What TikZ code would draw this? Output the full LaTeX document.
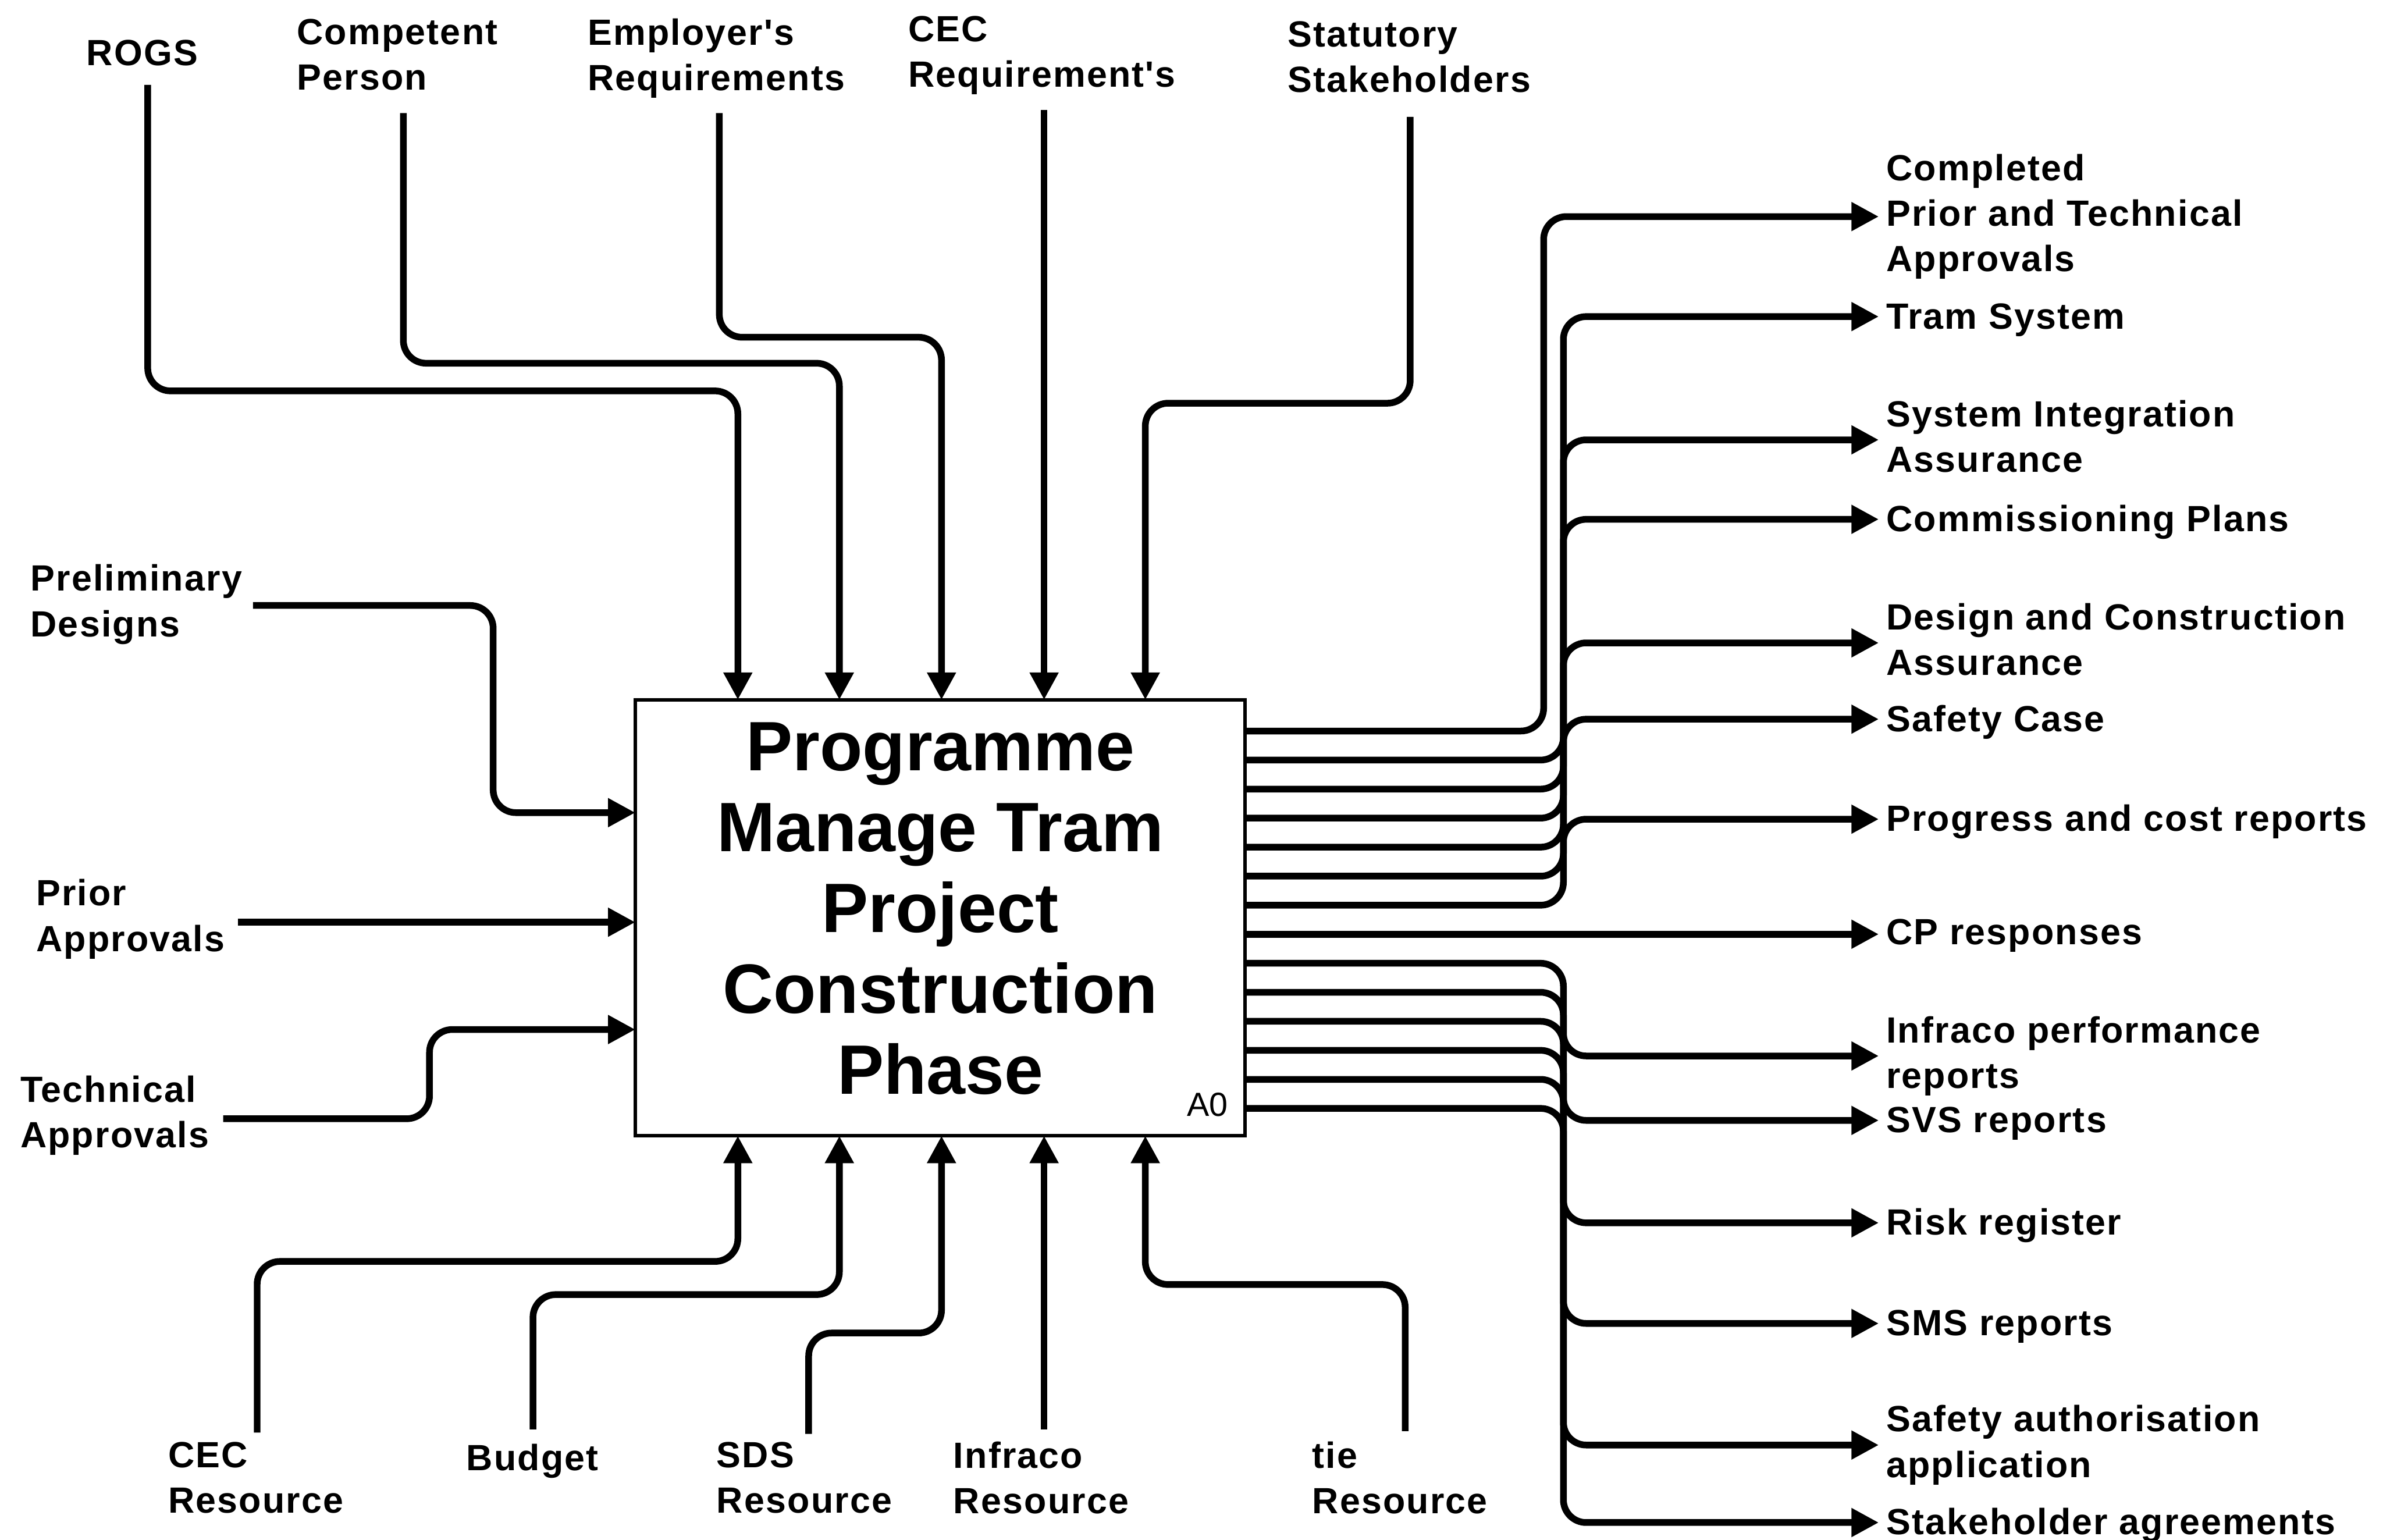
\documentclass[tikz,border=0pt]{standalone}
\usepackage{fontspec}
\setmainfont{Liberation Sans}[LetterSpace=3.5, Ligatures=TeXOff]
\newfontfamily\titlefont{Liberation Sans}
\usetikzlibrary{arrows.meta}

\begin{document}
\begin{tikzpicture}[x=0.5pt, y=-0.5pt,
  lbl/.style={font=\fontsize{12}{15}\selectfont\bfseries, align=left,
    inner sep=0pt, outer sep=0pt, anchor=west, yshift=-1pt,
    execute at begin node=\strut, execute at end node=\strut},
  procbox/.style={draw, line width=1.1pt, inner sep=0pt, outer sep=0pt,
    minimum width=200.65pt, minimum height=143.45pt, align=center,
    font=\titlefont\fontsize{23}{26.6}\selectfont\bfseries,
    execute at begin node={\rule{0pt}{20.4pt}},
    execute at end node={\rule[-6.2pt]{0pt}{6.2pt}}},
  conn/.style={line width=2.2pt, rounded corners=7.5pt,
    -{Triangle[length=9pt,width=9pt]}},
  outflow/.style={conn, shorten >=2.5pt}
]
\useasboundingbox (0,0) rectangle (1568,1013);

% activity box
\node[procbox] (a0) at (618.7,603.9)
  {Programme\\Manage Tram\\Project\\Construction\\Phase};
\node[font=\titlefont\fontsize{11}{13}\selectfont, anchor=base east,
  inner sep=0pt] (a0tag) at (808.4,734.6) {A0};

% controls (top)
\node[lbl] (rogs)   at (56.9,35.1)  {ROGS};
\node[lbl] (comp)   at (195.4,38.4) {Competent\\Person};
\node[lbl] (empl)   at (386.7,38.4) {Employer's\\Requirements};
\node[lbl] (cecreq) at (597.7,36.4) {CEC\\Requirement's};
\node[lbl] (stat)   at (847.2,39.8) {Statutory\\Stakeholders};

% inputs (left)
\node[lbl] (prelim) at (20.1,397.6) {Preliminary\\Designs};
\node[lbl] (prior)  at (23.8,604.7) {Prior\\Approvals};
\node[lbl] (tech)   at (13.4,733.9) {Technical\\Approvals};

% mechanisms (bottom)
\node[lbl] (cecres) at (110.7,974.7) {CEC\\Resource};
\node[lbl] (budget) at (306.9,959.7) {Budget};
\node[lbl] (sdsres) at (471.6,974.7) {SDS\\Resource};
\node[lbl] (infres) at (627.4,974.7) {Infraco\\Resource};
\node[lbl] (tieres) at (863.5,974.7) {tie\\Resource};

% outputs (right)
\node[lbl] (o1)  at (1241.2,142.5)  {Completed\\Prior and Technical\\Approvals};
\node[lbl] (o2)  at (1241.2,208.3)  {Tram System};
\node[lbl] (o3)  at (1241.2,289.4)  {System Integration\\Assurance};
\node[lbl] (o4)  at (1241.2,341.7)  {Commissioning Plans};
\node[lbl] (o5)  at (1241.2,423.0)  {Design and Construction\\Assurance};
\node[lbl] (o6)  at (1241.2,473.2)  {Safety Case};
\node[lbl] (o7)  at (1241.2,539.0)  {Progress and cost reports};
\node[lbl] (o8)  at (1241.2,613.3)  {CP responses};
\node[lbl] (o9)  at (1241.2,694.8)  {Infraco performance\\reports};
\node[lbl] (o10) at (1241.2,737.2)  {SVS reports};
\node[lbl] (o11) at (1241.2,804.6)  {Risk register};
\node[lbl] (o12) at (1241.2,870.8)  {SMS reports};
\node[lbl] (o13) at (1241.2,950.8)  {Safety authorisation\\application};
\node[lbl] (o14) at (1241.2,1001.8) {Stakeholder agreements};

% arrow ends beside the output labels
\foreach \n in {1,...,14}{
  \coordinate (e\n) at ([yshift=1pt]o\n.west);
}

% free ends of the connectors
\coordinate (rogsS)   at (97.2,55.8);
\coordinate (compS)   at (265.4,74.4);
\coordinate (emplS)   at (473.3,74.4);
\coordinate (cecS)    at (687,72.5);
\coordinate (statS)   at (927.9,76.9);
\coordinate (prelimE) at (166.5,398.4);
\coordinate (priorE)  at (156.7,606.8);
\coordinate (techE)   at (146.9,736.1);
\coordinate (cecresN) at (169.2,942.6);
\coordinate (budgetN) at (350.7,940.5);
\coordinate (sdsN)    at (532.1,943.5);
\coordinate (infN)    at (687,940.5);
\coordinate (tieN)    at (924.6,941.7);

% ports on the box
\coordinate (c1) at (485.5,0 |- a0.north);
\coordinate (c2) at (552.3,0 |- a0.north);
\coordinate (c3) at (619.5,0 |- a0.north);
\coordinate (c4) at (687,0 |- a0.north);
\coordinate (c5) at (753.6,0 |- a0.north);
\coordinate (m1) at (485.5,0 |- a0.south);
\coordinate (m2) at (552.3,0 |- a0.south);
\coordinate (m3) at (619.5,0 |- a0.south);
\coordinate (m4) at (687,0 |- a0.south);
\coordinate (m5) at (753.6,0 |- a0.south);
\coordinate (i1) at (a0.west |- 0,534.7);
\coordinate (i2) at (a0.west |- priorE);
\coordinate (i3) at (a0.west |- 0,677.4);
\foreach \k in {0,...,13}{
  \pgfmathtruncatemacro\n{\k+1}
  \coordinate (q\n) at (a0.east |- 0,{481+19.1*\k});
}

% output buses
\coordinate (busC) at (1015.7,0);
\coordinate (bus)  at (1028.7,0);

% controls
\draw[conn] (rogsS) |- (c1 |- 0,257.2) -- (c1);
\draw[conn] (compS) |- (c2 |- 0,239.0) -- (c2);
\draw[conn] (emplS) |- (c3 |- 0,221.9) -- (c3);
\draw[conn] (cecS) -- (c4);
\draw[conn] (statS) |- (c5 |- 0,265.3) -- (c5);

% inputs
\draw[conn] (prelimE) -| (324.5,0 |- i1) -- (i1);
\draw[conn] (priorE) -- (i2);
\draw[conn] (techE) -| (282.6,0 |- i3) -- (i3);

% mechanisms
\draw[conn] (cecresN) |- (m1 |- 0,830.0) -- (m1);
\draw[conn] (budgetN) |- (m2 |- 0,851.8) -- (m2);
\draw[conn] (sdsN) |- (m3 |- 0,877.1) -- (m3);
\draw[conn] (infN) -- (m4);
\draw[conn] (tieN) |- (m5 |- 0,845.2) -- (m5);

% outputs
\draw[outflow] (q1) -| (busC |- e1) -- (e1);
\draw[outflow] (q2) -| (bus |- e2) -- (e2);
\draw[outflow] (q3) -| (bus |- e3) -- (e3);
\draw[outflow] (q4) -| (bus |- e4) -- (e4);
\draw[outflow] (q5) -| (bus |- e5) -- (e5);
\draw[outflow] (q6) -| (bus |- e6) -- (e6);
\draw[outflow] (q7) -| (bus |- e7) -- (e7);
\draw[outflow] (q8) -- (q8 -| e8);
\draw[outflow] (q9) -| (bus |- e9) -- (e9);
\draw[outflow] (q10) -| (bus |- e10) -- (e10);
\draw[outflow] (q11) -| (bus |- e11) -- (e11);
\draw[outflow] (q12) -| (bus |- e12) -- (e12);
\draw[outflow] (q13) -| (bus |- e13) -- (e13);
\draw[outflow] (q14) -| (bus |- e14) -- (e14);
\end{tikzpicture}
\end{document}
